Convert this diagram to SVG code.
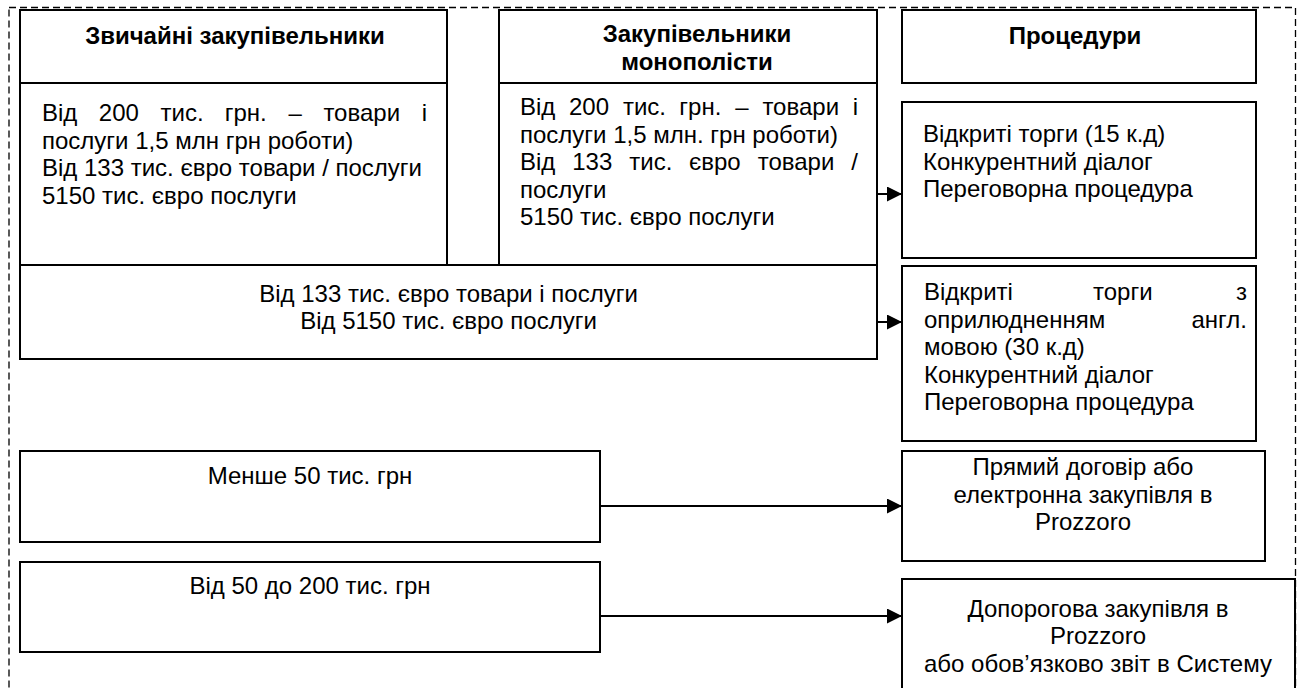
<svg xmlns="http://www.w3.org/2000/svg" width="1297" height="688" viewBox="0 0 1297 688">
<defs>
<marker id="arr" markerUnits="userSpaceOnUse" markerWidth="16" markerHeight="16" refX="15" refY="7.5" orient="auto">
<path d="M0,0 L15,7.5 L0,15 Z" fill="#000"/>
</marker>
<style>
.box{fill:#fff;stroke:#000;stroke-width:2}
.t{font-family:"Liberation Sans",Arial,sans-serif;font-size:24px;fill:#000}
.b{font-weight:bold}
.c{text-anchor:middle}
.e{text-anchor:end}
.con{stroke:#000;stroke-width:2;fill:none;marker-end:url(#arr)}
.frame{fill:none;stroke:#000;stroke-width:1.3;stroke-dasharray:7 4}
</style>
</defs>
<rect width="1297" height="688" fill="#fff"/>
<rect class="frame" x="9" y="7.5" width="1286.5" height="720"/>

<g id="ordinary">
<rect class="box" x="20" y="10" width="427" height="73"/>
<text class="t b c" x="235" y="44">Звичайні закупівельники</text>
<rect class="box" x="20" y="83" width="427" height="182"/>
<text class="t" y="121"><tspan x="42">Від</tspan><tspan x="98.8">200</tspan><tspan x="160.5">тис.</tspan><tspan x="224.7">грн.</tspan><tspan x="288.4">–</tspan><tspan x="323.4">товари</tspan><tspan x="427" text-anchor="end">і</tspan></text>
<text class="t" x="42" y="148.6">послуги 1,5 млн грн роботи)</text>
<text class="t" x="42" y="176.2">Від 133 тис. євро товари / послуги</text>
<text class="t" x="42" y="203.8">5150 тис. євро послуги</text>
</g>

<g id="monopolists">
<rect class="box" x="499" y="10" width="378" height="73"/>
<text class="t b c" x="697" y="42">Закупівельники</text>
<text class="t b c" x="697" y="69.6">монополісти</text>
<rect class="box" x="499" y="83" width="378" height="182"/>
<text class="t" y="115"><tspan x="520">Від</tspan><tspan x="569">200</tspan><tspan x="622.9">тис.</tspan><tspan x="679.3">грн.</tspan><tspan x="735.2">–</tspan><tspan x="762.4">товари</tspan><tspan x="858" text-anchor="end">і</tspan></text>
<text class="t" x="520" y="142.6">послуги 1,5 млн. грн роботи)</text>
<text class="t" y="170.2"><tspan x="520">Від</tspan><tspan x="572.2">133</tspan><tspan x="629.3">тис.</tspan><tspan x="688.9">євро</tspan><tspan x="757.7">товари</tspan><tspan x="858" text-anchor="end">/</tspan></text>
<text class="t" x="520" y="197.8">послуги</text>
<text class="t" x="520" y="225.4">5150 тис. євро послуги</text>
</g>

<g id="eu-thresholds">
<rect class="box" x="20" y="265" width="857" height="94"/>
<text class="t c" x="448.5" y="301.5">Від 133 тис. євро товари і послуги</text>
<text class="t c" x="448.5" y="329">Від 5150 тис. євро послуги</text>
</g>

<g id="procedures-header">
<rect class="box" x="902" y="10" width="354" height="73"/>
<text class="t b c" x="1075" y="44">Процедури</text>
</g>

<g id="open-tenders">
<rect class="box" x="902" y="102" width="354" height="156"/>
<text class="t" x="923" y="142">Відкриті торги (15 к.д)</text>
<text class="t" x="923" y="169.6">Конкурентний діалог</text>
<text class="t" x="923" y="197.2">Переговорна процедура</text>
</g>

<g id="open-tenders-eng">
<rect class="box" x="902" y="266" width="354" height="175"/>
<text class="t" y="300"><tspan x="924">Відкриті</tspan><tspan x="1093">торги</tspan><tspan x="1247" text-anchor="end">з</tspan></text>
<text class="t" y="327.6"><tspan x="924">оприлюдненням</tspan><tspan x="1247" text-anchor="end">англ.</tspan></text>
<text class="t" x="924" y="355.2">мовою (30 к.д)</text>
<text class="t" x="924" y="382.8">Конкурентний діалог</text>
<text class="t" x="924" y="410.4">Переговорна процедура</text>
</g>

<g id="under-50">
<rect class="box" x="20" y="451" width="580" height="91"/>
<text class="t c" x="310" y="484">Менше 50 тис. грн</text>
</g>

<g id="from-50-to-200">
<rect class="box" x="20" y="562" width="580" height="90"/>
<text class="t c" x="310" y="594">Від 50 до 200 тис. грн</text>
</g>

<g id="direct-contract">
<rect class="box" x="902" y="451" width="363" height="110"/>
<text class="t c" x="1083" y="475">Прямий договір або</text>
<text class="t c" x="1083" y="502.6">електронна закупівля в</text>
<text class="t c" x="1083" y="530.2">Prozzoro</text>
</g>

<g id="below-threshold">
<rect class="box" x="902" y="579" width="393" height="140"/>
<text class="t c" x="1098" y="616.7">Допорогова закупівля в</text>
<text class="t c" x="1098" y="644.3">Prozzoro</text>
<text class="t c" x="1098" y="671.9">або обов’язково звіт в Систему</text>
</g>

<g id="connectors">
<line class="con" x1="877" y1="194" x2="902" y2="194"/>
<line class="con" x1="877" y1="322" x2="902" y2="322"/>
<line class="con" x1="600" y1="506" x2="902" y2="506"/>
<line class="con" x1="600" y1="616" x2="902" y2="616"/>
</g>
</svg>
